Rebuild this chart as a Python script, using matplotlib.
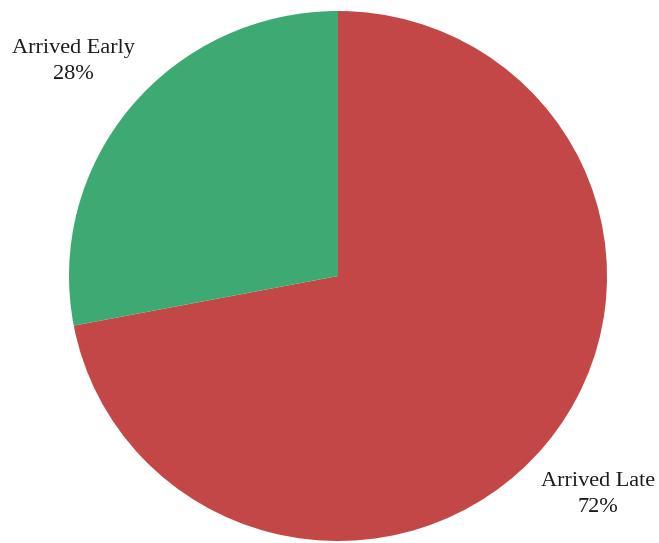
import matplotlib
matplotlib.use("Agg")
import matplotlib.pyplot as plt

labels = ["Arrived Late", "Arrived Early"]
shares = [72, 28]
colors = ["#c44748", "#3caa72"]

W, H = 659, 543
CX, CY, RX, RY = 338, 276, 269, 265   # pie centre / radii in pixels

fig = plt.figure(figsize=(W / 100, H / 100), dpi=100)
ax = fig.add_axes([(CX - RX) / W, (H - CY - RY) / H, 2 * RX / W, 2 * RY / H])
ax.pie(shares, colors=colors, startangle=90, counterclock=False,
       wedgeprops=dict(linewidth=0), frame=False)
ax.set_aspect("auto")
ax.set_xlim(-1, 1)
ax.set_ylim(-1, 1)
ax.axis("off")

label_pos = {"Arrived Late": (0.965, -0.823), "Arrived Early": (-0.983, 0.81)}
for lab, val in zip(labels, shares):
    x, y = label_pos[lab]
    ax.text(x, y, f"{lab}\n{val}%", ha="center", va="center",
            family="Liberation Serif", fontsize=16, color="#1a1a1a",
            linespacing=1.5, clip_on=False)

fig.savefig("out.png", dpi=100)
